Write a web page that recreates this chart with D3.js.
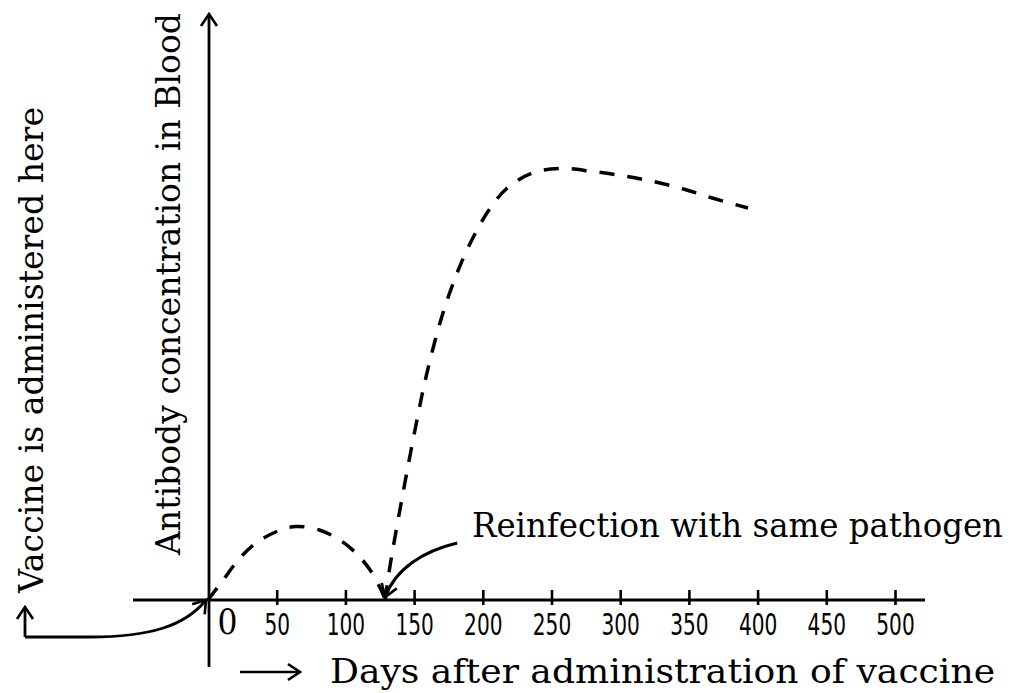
<!DOCTYPE html>
<html>
<head>
<meta charset="utf-8">
<script src="https://cdn.jsdelivr.net/npm/d3@7"></script>
<style>
  body { margin: 0; background: #fff; }
  svg { display: block; }
  .serif { font-family: "DejaVu Serif", "Liberation Serif", serif; fill: #000; }
  .tick text { font-family: "Liberation Sans Narrow", "DejaVu Sans Condensed", "Roboto Condensed", "Liberation Sans", sans-serif; font-stretch: condensed; }
</style>
</head>
<body>
<div id="chart"></div>
<script>
// Primary response (after vaccine) - days and antibody level (arbitrary units)
const primaryDays  = [0, 11, 22, 33, 50, 64, 81, 96, 108, 118, 126, 129];
const primaryLevel = [0, 4, 8, 11, 13.7, 14.7, 14, 12, 9.3, 6, 2, 0];

// Secondary response (after reinfection)
const secondaryDays  = [129, 132, 142, 151, 159, 170, 180, 188, 197, 205, 217, 236, 258, 280, 303, 324, 346, 367, 393];
const secondaryLevel = [0, 6, 21.5, 34.5, 45, 56.5, 64.5, 69.7, 74.6, 78.2, 82.2, 85.4, 86.3, 85.7, 84.8, 83.7, 82.2, 80.4, 78.4];

// x axis ticks
const tickValues = [0, 50, 100, 150, 200, 250, 300, 350, 400, 450, 500];
const tickLabels = ["0", "50", "100", "150", "200", "250", "300", "350", "400", "450", "500"];

const reinfectionDay = 129;

const width = 1016, height = 693;

const x = d3.scaleLinear().domain([0, 500]).range([208, 895]);
const y = d3.scaleLinear().domain([0, 100]).range([600, 100]);

const svg = d3.select("#chart").append("svg")
  .attr("width", width)
  .attr("height", height);

// open chevron arrowhead
const defs = svg.append("defs");
defs.append("marker")
  .attr("id", "arrow")
  .attr("viewBox", "-14 -10 16 20")
  .attr("markerWidth", 16)
  .attr("markerHeight", 20)
  .attr("markerUnits", "userSpaceOnUse")
  .attr("refX", 0)
  .attr("refY", 0)
  .attr("orient", "auto")
  .append("path")
  .attr("d", "M-12,-8 L0,0 L-12,8")
  .attr("fill", "none")
  .attr("stroke", "#000")
  .attr("stroke-width", 2.6)
  .attr("stroke-linejoin", "miter");

const x0 = x(0), yBase = y(0);

// x axis
const xAxis = d3.axisBottom(x)
  .tickValues(tickValues)
  .tickFormat((d, i) => tickLabels[i])
  .tickSizeOuter(0);

const gx = svg.append("g")
  .attr("transform", `translate(0,${yBase})`)
  .call(xAxis);
gx.select(".domain").remove();
gx.selectAll(".tick line")
  .attr("y1", -10)
  .attr("y2", 5)
  .attr("stroke", "#000")
  .attr("stroke-width", 2.6)
  .filter(d => d === 0).remove();
gx.selectAll(".tick text")
  .attr("y", 35)
  .attr("dy", null)
  .attr("font-size", 30)
  .attr("fill", "#000")
  .attr("textLength", (d, i) => tickLabels[i].length * 12.8)
  .attr("lengthAdjust", "spacingAndGlyphs");
// the origin label is set in the serif face, offset right of the y axis
gx.selectAll(".tick text").filter(d => d === 0)
  .style("font-family", '"DejaVu Serif", "Liberation Serif", serif')
  .style("font-stretch", "normal")
  .attr("x", 19)
  .attr("y", 34)
  .attr("font-size", 36)
  .attr("textLength", 20);

// axis lines
svg.append("line")
  .attr("x1", x0 - 75).attr("x2", x(500) + 30)
  .attr("y1", yBase).attr("y2", yBase)
  .attr("stroke", "#000").attr("stroke-width", 2.8);

svg.append("line")
  .attr("x1", x0 + 1).attr("x2", x0 + 1)
  .attr("y1", yBase + 67).attr("y2", 14)
  .attr("stroke", "#000").attr("stroke-width", 2.8)
  .attr("marker-end", "url(#arrow)");

// curves
const line = d3.line()
  .x(d => x(d[0]))
  .y(d => y(d[1]))
  .curve(d3.curveCatmullRom.alpha(0.5));

[[primaryDays, primaryLevel], [secondaryDays, secondaryLevel]].forEach(([days, level]) => {
  svg.append("path")
    .datum(days.map((d, i) => [d, level[i]]))
    .attr("d", line)
    .attr("fill", "none")
    .attr("stroke", "#000")
    .attr("stroke-width", 3.5)
    .attr("stroke-dasharray", "15,13");
});

// annotation: reinfection arrow
const rx = x(reinfectionDay), ry = yBase - 3;
svg.append("path")
  .attr("d", `M${rx + 72},${ry - 54} C${rx + 38},${ry - 46} ${rx + 10},${ry - 28} ${rx},${ry}`)
  .attr("fill", "none")
  .attr("stroke", "#000")
  .attr("stroke-width", 3)
  .attr("marker-end", "url(#arrow)");

const bigFont = 33;

svg.append("text")
  .attr("class", "serif")
  .attr("x", 472).attr("y", 537)
  .attr("font-size", bigFont)
  .attr("textLength", 531)
  .attr("lengthAdjust", "spacingAndGlyphs")
  .text("Reinfection with same pathogen");

// annotation: vaccine arrow
svg.append("path")
  .attr("d", `M25,637 L25,607`)
  .attr("fill", "none")
  .attr("stroke", "#000")
  .attr("stroke-width", 2.8)
  .attr("marker-end", "url(#arrow)");
svg.append("path")
  .attr("d", `M25,637 L90,637 C150,637 185,626 ${x0 - 2},${yBase}`)
  .attr("fill", "none")
  .attr("stroke", "#000")
  .attr("stroke-width", 2.8)
  .attr("marker-end", "url(#arrow)");

// x axis title with arrow
svg.append("line")
  .attr("x1", 240).attr("x2", 300)
  .attr("y1", 672).attr("y2", 672)
  .attr("stroke", "#000").attr("stroke-width", 2.6)
  .attr("marker-end", "url(#arrow)");

svg.append("text")
  .attr("class", "serif")
  .attr("x", 330).attr("y", 683)
  .attr("font-size", bigFont)
  .attr("textLength", 665)
  .attr("lengthAdjust", "spacingAndGlyphs")
  .text("Days after administration of vaccine");

// vertical labels
svg.append("text")
  .attr("class", "serif")
  .attr("transform", "translate(180,555) rotate(-90)")
  .attr("font-size", bigFont)
  .attr("textLength", 542)
  .attr("lengthAdjust", "spacingAndGlyphs")
  .text("Antibody concentration in Blood");

svg.append("text")
  .attr("class", "serif")
  .attr("transform", "translate(43,593) rotate(-90)")
  .attr("font-size", bigFont)
  .attr("textLength", 486)
  .attr("lengthAdjust", "spacingAndGlyphs")
  .text("Vaccine is administered here");
</script>
</body>
</html>
